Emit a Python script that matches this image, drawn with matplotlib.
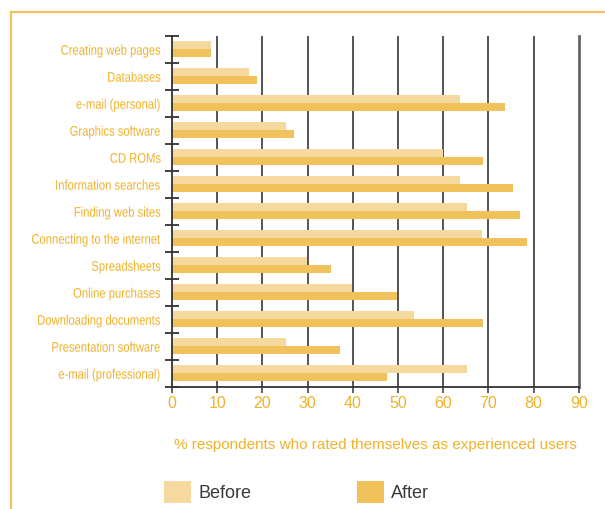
import matplotlib
matplotlib.use("Agg")
import matplotlib.pyplot as plt
import numpy as np
from matplotlib.patches import Patch
from matplotlib.lines import Line2D
from matplotlib.patheffects import AbstractPathEffect
from matplotlib.transforms import Affine2D

categories = ["Creating web pages", "Databases", "e-mail (personal)", "Graphics software",
              "CD ROMs", "Information searches", "Finding web sites",
              "Connecting to the internet", "Spreadsheets", "Online purchases",
              "Downloading documents", "Presentation software", "e-mail (professional)"]
before = [8.6, 17.0, 63.7, 25.3, 60.0, 63.7, 65.2, 68.5, 29.8, 39.9, 53.6, 25.3, 65.2]
after = [8.6, 18.7, 73.6, 27.1, 68.8, 75.4, 77.0, 78.6, 35.2, 49.8, 68.8, 37.1, 47.5]
xticks = [0, 10, 20, 30, 40, 50, 60, 70, 80, 90]
xlabel = "% respondents who rated themselves as experienced users"
legend_labels = ["Before", "After"]

C_BEFORE = "#F6D99E"
C_AFTER = "#F0C25C"
C_TEXT = "#F0B22A"
C_FRAME = "#F2C55C"
C_GRID = "#262626"


class HCompress(AbstractPathEffect):
    """Narrow the glyphs horizontally, keeping the right edge in place."""
    def __init__(self, sx):
        super().__init__()
        self.sx = sx

    def draw_path(self, renderer, gc, tpath, affine, rgbFace=None):
        x1 = tpath.get_extents().x1
        t = Affine2D().translate(-x1, 0).scale(self.sx, 1).translate(x1, 0) + affine
        renderer.draw_path(gc, tpath, t, rgbFace)


plt.rcParams['font.family'] = ['Liberation Sans', 'DejaVu Sans']

W, H = 605, 509
fig = plt.figure(figsize=(W / 100, H / 100), dpi=100)
fig.patch.set_facecolor("white")

left, right, top, bottom = 172, 578.7, 35.7, 386.7
ax = fig.add_axes([left / W, 1 - bottom / H, (right - left) / W, (bottom - top) / H])

n = len(categories)
y = np.arange(n)
bh = 0.29
ax.barh(y - bh / 2, before, height=bh, color=C_BEFORE, zorder=2)
ax.barh(y + bh / 2, after, height=bh, color=C_AFTER, zorder=2)

ax.set_xlim(0, 90)
ax.set_ylim(n - 0.5, -0.5)

# grid
for xv in xticks[1:-1]:
    ax.axvline(xv, color=C_GRID, lw=1.1, zorder=1)
ax.axvline(90, color="#666666", lw=2.0, zorder=1, clip_on=False)

for s in ["top", "right"]:
    ax.spines[s].set_visible(False)
ax.spines["left"].set_color("#333333")
ax.spines["left"].set_linewidth(1.3)
ax.spines["left"].set_zorder(3)
ax.spines["bottom"].set_color("#333333")
ax.spines["bottom"].set_linewidth(1.3)

ax.set_yticks(y)
ax.set_yticklabels(categories)
ax.set_yticks(np.arange(-0.5, n, 1.0), minor=True)
ax.tick_params(axis="y", which="major", length=0, pad=8, labelsize=10, labelcolor=C_TEXT)
ax.tick_params(axis="y", which="minor", direction="inout", length=10, width=1.3, color="#333333")
for lab in ax.get_yticklabels():
    lab.set_path_effects([HCompress(0.81)])

ax.set_xticks(xticks)
ax.set_xticklabels([str(v) for v in xticks])
ax.tick_params(axis="x", which="major", direction="out", length=4, width=1.1, color="#333333",
               pad=3, labelsize=11.5, labelcolor=C_TEXT)

ax.set_xlabel(xlabel, color=C_TEXT, fontsize=11, labelpad=19)

# frame lines
fig.add_artist(Line2D([11 / W, 1.0], [1 - 11.7 / H, 1 - 11.7 / H], transform=fig.transFigure,
                      color=C_FRAME, lw=1.6))
fig.add_artist(Line2D([11 / W, 11 / W], [1 - 11.7 / H, 0.0], transform=fig.transFigure,
                      color=C_FRAME, lw=1.6))

handles = [Patch(facecolor=C_BEFORE, edgecolor="none"), Patch(facecolor=C_AFTER, edgecolor="none")]
leg = fig.legend(handles, legend_labels, loc="center left",
                 bbox_to_anchor=(163.5 / W, 1 - 492 / H), ncol=2, frameon=False,
                 handlelength=1.5, handleheight=1.5, handletextpad=0.42,
                 columnspacing=5.85, borderaxespad=0, borderpad=0,
                 prop={"size": 13})
for t in leg.get_texts():
    t.set_color("#3a3a3a")

fig.savefig("out.png", dpi=100)
